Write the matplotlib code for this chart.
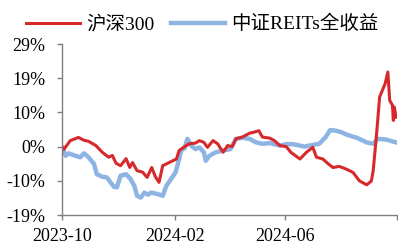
import matplotlib
matplotlib.use("Agg")
import matplotlib.pyplot as plt
import matplotlib.dates as mdates
import numpy as np
import pandas as pd

plt.rcParams['font.family'] = ['Liberation Serif', 'Noto Sans CJK SC']

# 沪深300 (%)
hs300_dates = ["2023-10-01", "2023-10-03", "2023-10-10", "2023-10-19", "2023-10-25", "2023-10-30",
               "2023-11-07", "2023-11-14", "2023-11-21", "2023-11-25", "2023-11-29", "2023-12-04",
               "2023-12-10", "2023-12-14", "2023-12-17", "2023-12-22", "2023-12-28", "2024-01-02",
               "2024-01-07", "2024-01-11", "2024-01-15", "2024-01-19", "2024-01-26", "2024-02-03",
               "2024-02-06", "2024-02-12", "2024-02-17", "2024-02-24", "2024-02-28", "2024-03-04",
               "2024-03-08", "2024-03-14", "2024-03-19", "2024-03-25", "2024-03-30", "2024-04-04",
               "2024-04-08", "2024-04-15", "2024-04-23", "2024-04-28", "2024-05-03", "2024-05-07",
               "2024-05-15", "2024-05-20", "2024-05-26", "2024-06-02", "2024-06-07", "2024-06-17",
               "2024-06-24", "2024-07-01", "2024-07-05", "2024-07-12", "2024-07-18", "2024-07-23",
               "2024-07-30", "2024-08-07", "2024-08-14", "2024-08-21", "2024-08-29", "2024-09-03",
               "2024-09-05", "2024-09-09", "2024-09-12", "2024-09-18", "2024-09-21", "2024-09-23",
               "2024-09-26", "2024-09-27", "2024-09-28", "2024-09-30"]
hs300_vals = [0.0, -0.8, 1.7, 2.6, 1.8, 1.5,
              0.3, -1.6, -3.0, -2.5, -4.7, -5.4,
              -3.4, -5.9, -4.5, -6.8, -7.2, -8.7,
              -5.9, -8.5, -10.1, -5.4, -4.5, -3.5,
              -1.1, 0.0, 0.8, 1.0, 1.7, 1.2,
              -0.2, 1.7, 0.8, -1.6, 0.3, 0.0,
              2.2, 2.7, 3.8, 4.1, 4.5, 2.7,
              2.4, 1.7, 0.3, 0.0, -1.6, -3.5,
              -1.6, -0.2, -3.0, -3.5, -4.9, -5.9,
              -5.6, -6.4, -7.3, -9.7, -10.8, -9.7,
              -6.8, 4.5, 14.0, 17.8, 21.1, 13.1,
              11.7, 7.4, 11.2, 8.3]

# 中证REITs全收益 (%)
reits_dates = ["2023-10-01", "2023-10-05", "2023-10-08", "2023-10-16", "2023-10-21", "2023-10-25",
               "2023-10-30", "2023-11-05", "2023-11-08", "2023-11-14", "2023-11-19", "2023-11-23",
               "2023-11-27", "2023-11-30", "2023-12-04", "2023-12-10", "2023-12-15", "2023-12-19",
               "2023-12-22", "2023-12-26", "2023-12-30", "2024-01-03", "2024-01-06", "2024-01-12",
               "2024-01-19", "2024-01-23", "2024-01-28", "2024-02-02", "2024-02-06", "2024-02-08",
               "2024-02-12", "2024-02-15", "2024-02-19", "2024-02-24", "2024-02-28", "2024-03-04",
               "2024-03-06", "2024-03-10", "2024-03-17", "2024-03-25", "2024-04-02", "2024-04-08",
               "2024-04-15", "2024-04-23", "2024-04-30", "2024-05-07", "2024-05-15", "2024-05-26",
               "2024-06-02", "2024-06-09", "2024-06-17", "2024-06-22", "2024-06-27", "2024-07-08",
               "2024-07-15", "2024-07-20", "2024-07-26", "2024-08-01", "2024-08-07", "2024-08-18",
               "2024-08-29", "2024-09-05", "2024-09-10", "2024-09-19", "2024-09-30"]
reits_vals = [-0.2, -2.6, -1.9, -2.6, -3.0, -1.9,
              -3.0, -4.9, -7.8, -8.5, -8.7, -10.1,
              -11.4, -11.5, -8.2, -7.8, -9.2, -11.1,
              -13.9, -14.4, -13.0, -13.6, -13.0, -13.3,
              -13.9, -11.1, -9.2, -7.3, -3.5, -1.1,
              -0.4, 2.2, 0.3, -0.7, -0.2, -1.6,
              -4.0, -2.6, -1.6, -1.1, -0.7, 2.2,
              2.5, 2.2, 1.2, 0.8, 1.0, 0.3,
              0.7, 0.7, 0.3, 0.0, 0.3, 0.8,
              2.7, 4.7, 4.5, 4.1, 3.4, 2.5,
              1.2, 0.8, 2.2, 2.0, 1.2]

y_ticks = [-19.33, -9.67, 0.0, 9.67, 19.33, 29.0]
x_ticks = ["2023-10-01", "2024-02-01", "2024-06-01", "2024-10-01"]
x_ticklabels = ["2023-10", "2024-02", "2024-06", ""]

fig = plt.figure(figsize=(3.98, 2.46), dpi=100)
ax = fig.add_axes([0.1558, 0.126, 0.8417, 0.695])

ax.plot(pd.to_datetime(reits_dates), reits_vals, color='#8db4e2', lw=3.2,
        label='中证REITs全收益', solid_joinstyle='round')
ax.plot(pd.to_datetime(hs300_dates), hs300_vals, color='#d7282c', lw=2.2,
        label='沪深300', solid_joinstyle='round')

ax.set_ylim(y_ticks[0], y_ticks[-1])
ax.set_yticks(y_ticks)
ax.set_yticklabels([f"{v:.0f}%" for v in y_ticks])
ax.set_xlim(pd.Timestamp(x_ticks[0]), pd.Timestamp(x_ticks[-1]))
ax.set_xticks(pd.to_datetime(x_ticks))
ax.set_xticklabels(x_ticklabels)

for s in ['top', 'right']:
    ax.spines[s].set_visible(False)
for s in ['left', 'bottom']:
    ax.spines[s].set_color('#7f7f7f')
    ax.spines[s].set_linewidth(1.0)
ax.tick_params(axis='both', colors='#7f7f7f', labelcolor='black', labelsize=13,
               length=3.5, width=1.0)
ax.tick_params(axis='y', pad=8.5)
ax.tick_params(axis='x', pad=6)

handles, labels = ax.get_legend_handles_labels()
fig.legend(handles[::-1], labels[::-1], loc='center', bbox_to_anchor=(0.509, 0.902),
           ncol=2, frameon=False, fontsize=14, handlelength=2.75, handletextpad=0.35,
           columnspacing=0.85, borderpad=0, borderaxespad=0)

fig.savefig("out.png", dpi=100)
